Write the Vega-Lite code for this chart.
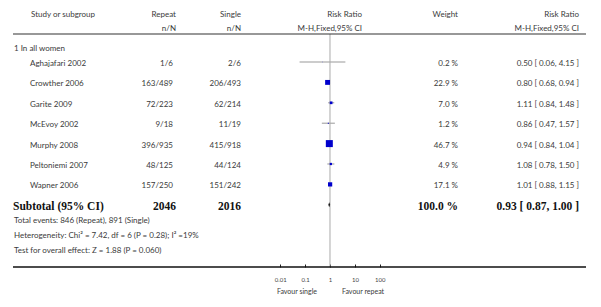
{
  "$schema": "https://vega.github.io/schema/vega-lite/v6.json",
  "padding": {"left": 12, "top": 0, "right": 0, "bottom": 0},
  "spacing": 0,
  "bounds": "flush",
  "config": {
    "view": {"stroke": null},
    "text": {"font": "Lato", "fontSize": 8, "color": "#3a3a3a", "dy": 2}
  },
  "datasets": {
    "studies": [
      {"study": "Aghajafari 2002", "repeat": "1/6", "single": "2/6", "weight": 0.2, "wtxt": "0.2 %", "rr": 0.50, "lo": 0.06, "hi": 4.15, "rrtxt": "0.50 [ 0.06, 4.15 ]", "row": 1},
      {"study": "Crowther 2006", "repeat": "163/489", "single": "206/493", "weight": 22.9, "wtxt": "22.9 %", "rr": 0.80, "lo": 0.68, "hi": 0.94, "rrtxt": "0.80 [ 0.68, 0.94 ]", "row": 2},
      {"study": "Garite 2009", "repeat": "72/223", "single": "62/214", "weight": 7.0, "wtxt": "7.0 %", "rr": 1.11, "lo": 0.84, "hi": 1.48, "rrtxt": "1.11 [ 0.84, 1.48 ]", "row": 3},
      {"study": "McEvoy 2002", "repeat": "9/18", "single": "11/19", "weight": 1.2, "wtxt": "1.2 %", "rr": 0.86, "lo": 0.47, "hi": 1.57, "rrtxt": "0.86 [ 0.47, 1.57 ]", "row": 4},
      {"study": "Murphy 2008", "repeat": "396/935", "single": "415/918", "weight": 46.7, "wtxt": "46.7 %", "rr": 0.94, "lo": 0.84, "hi": 1.04, "rrtxt": "0.94 [ 0.84, 1.04 ]", "row": 5},
      {"study": "Peltoniemi 2007", "repeat": "48/125", "single": "44/124", "weight": 4.9, "wtxt": "4.9 %", "rr": 1.08, "lo": 0.78, "hi": 1.50, "rrtxt": "1.08 [ 0.78, 1.50 ]", "row": 6},
      {"study": "Wapner 2006", "repeat": "157/250", "single": "151/242", "weight": 17.1, "wtxt": "17.1 %", "rr": 1.01, "lo": 0.88, "hi": 1.15, "rrtxt": "1.01 [ 0.88, 1.15 ]", "row": 7}
    ],
    "total": [
      {"label": "Subtotal (95% CI)", "repeat": "2046", "single": "2016", "wtxt": "100.0 %", "rr": 0.93, "lo": 0.87, "hi": 1.00, "rrtxt": "0.93 [ 0.87, 1.00 ]", "row": 8}
    ],
    "notes": [
      {"text": "1 In all women", "row": 0.25},
      {"text": "Total events: 846 (Repeat), 891 (Single)", "row": 8.7},
      {"text": "Heterogeneity: Chi² = 7.42, df = 6 (P = 0.28); I² =19%", "row": 9.45},
      {"text": "Test for overall effect: Z = 1.88 (P = 0.060)", "row": 10.15}
    ],
    "headers": [
      {"col": "study", "text": "Study or subgroup", "row": -1.4},
      {"col": "repeat", "text": "Repeat", "row": -1.4},
      {"col": "repeat", "text": "n/N", "row": -0.74},
      {"col": "single", "text": "Single", "row": -1.4},
      {"col": "single", "text": "n/N", "row": -0.74},
      {"col": "forest", "text": "Risk Ratio", "row": -1.4},
      {"col": "forest", "text": "M-H,Fixed,95% CI", "row": -0.74},
      {"col": "weight", "text": "Weight", "row": -1.4},
      {"col": "rr", "text": "Risk Ratio", "row": -1.4},
      {"col": "rr", "text": "M-H,Fixed,95% CI", "row": -0.74}
    ],
    "favour": [
      {"text": "Favour single", "side": "left", "row": 12.2},
      {"text": "Favour repeat", "side": "right", "row": 12.2}
    ],
    "frame": [
      {"line": "frame"}
    ]
  },
  "hconcat": [
    {
      "width": 123, "height": 267,
      "layer": [
        {"data": {"name": "studies"}, "mark": {"type": "text", "align": "left", "dx": 17},
         "encoding": {"x": {"datum": 0, "type": "quantitative", "scale": {"domain": [0, 1], "nice": false, "zero": false}, "axis": null},
                      "y": {"field": "row", "type": "quantitative", "scale": {"domain": [-2.04, 11.05], "reverse": true, "nice": false, "zero": false}, "axis": null},
                      "text": {"field": "study"}}},
        {"data": {"name": "total"}, "mark": {"type": "text", "align": "left", "font": "Liberation Serif", "fontWeight": "bold", "fontSize": 11.5, "color": "#111"},
         "encoding": {"x": {"datum": 0, "type": "quantitative"}, "y": {"field": "row", "type": "quantitative"}, "text": {"field": "label"}}},
        {"data": {"name": "notes"}, "mark": {"type": "text", "align": "left", "dx": 1},
         "encoding": {"x": {"datum": 0, "type": "quantitative"}, "y": {"field": "row", "type": "quantitative"}, "text": {"field": "text"}}},
        {"data": {"name": "headers"}, "transform": [{"filter": "datum.col === 'study'"}], "mark": {"type": "text", "align": "left", "dx": 18},
         "encoding": {"x": {"datum": 0, "type": "quantitative"}, "y": {"field": "row", "type": "quantitative"}, "text": {"field": "text"}}},
        {"data": {"name": "frame"}, "mark": {"type": "rule", "color": "#333", "strokeWidth": 1.2}, "encoding": {"y": {"datum": -0.373, "type": "quantitative"}}},
        {"data": {"name": "frame"}, "mark": {"type": "rule", "color": "#111", "strokeWidth": 1.5}, "encoding": {"y": {"datum": 11.05, "type": "quantitative"}}}
      ]
    },
    {
      "width": 40, "height": 267,
      "layer": [
        {"data": {"name": "studies"}, "mark": {"type": "text", "align": "right", "dx": -3},
         "encoding": {"x": {"datum": 1, "type": "quantitative", "scale": {"domain": [0, 1], "nice": false, "zero": false}, "axis": null},
                      "y": {"field": "row", "type": "quantitative", "scale": {"domain": [-2.04, 11.05], "reverse": true, "nice": false, "zero": false}, "axis": null},
                      "text": {"field": "repeat"}}},
        {"data": {"name": "total"}, "mark": {"type": "text", "align": "right", "font": "Liberation Serif", "fontWeight": "bold", "fontSize": 11.5, "color": "#111"},
         "encoding": {"x": {"datum": 1, "type": "quantitative"}, "y": {"field": "row", "type": "quantitative"}, "text": {"field": "repeat"}}},
        {"data": {"name": "headers"}, "transform": [{"filter": "datum.col === 'repeat'"}], "mark": {"type": "text", "align": "right"},
         "encoding": {"x": {"datum": 1, "type": "quantitative"}, "y": {"field": "row", "type": "quantitative"}, "text": {"field": "text"}}},
        {"data": {"name": "frame"}, "mark": {"type": "rule", "color": "#333", "strokeWidth": 1.2}, "encoding": {"y": {"datum": -0.373, "type": "quantitative"}}},
        {"data": {"name": "frame"}, "mark": {"type": "rule", "color": "#111", "strokeWidth": 1.5}, "encoding": {"y": {"datum": 11.05, "type": "quantitative"}}}
      ]
    },
    {
      "width": 65, "height": 267,
      "layer": [
        {"data": {"name": "studies"}, "mark": {"type": "text", "align": "right"},
         "encoding": {"x": {"datum": 1, "type": "quantitative", "scale": {"domain": [0, 1], "nice": false, "zero": false}, "axis": null},
                      "y": {"field": "row", "type": "quantitative", "scale": {"domain": [-2.04, 11.05], "reverse": true, "nice": false, "zero": false}, "axis": null},
                      "text": {"field": "single"}}},
        {"data": {"name": "total"}, "mark": {"type": "text", "align": "right", "font": "Liberation Serif", "fontWeight": "bold", "fontSize": 11.5, "color": "#111"},
         "encoding": {"x": {"datum": 1, "type": "quantitative"}, "y": {"field": "row", "type": "quantitative"}, "text": {"field": "single"}}},
        {"data": {"name": "headers"}, "transform": [{"filter": "datum.col === 'single'"}], "mark": {"type": "text", "align": "right"},
         "encoding": {"x": {"datum": 1, "type": "quantitative"}, "y": {"field": "row", "type": "quantitative"}, "text": {"field": "text"}}},
        {"data": {"name": "frame"}, "mark": {"type": "rule", "color": "#333", "strokeWidth": 1.2}, "encoding": {"y": {"datum": -0.373, "type": "quantitative"}}},
        {"data": {"name": "frame"}, "mark": {"type": "rule", "color": "#111", "strokeWidth": 1.5}, "encoding": {"y": {"datum": 11.05, "type": "quantitative"}}}
      ]
    },
    {
      "width": 160, "height": 267,
      "layer": [
        {"data": {"name": "studies"}, "mark": {"type": "rule", "color": "#999", "strokeWidth": 1},
         "encoding": {
           "x": {"field": "lo", "type": "quantitative", "scale": {"type": "log", "domain": [0.0002667, 710], "nice": false},
                 "axis": {"values": [0.01, 0.1, 1, 10, 100], "format": "~g", "title": null, "domain": false, "grid": false, "tickSize": -3, "tickColor": "#222", "tickWidth": 1, "labelPadding": 12, "labelFont": "Lato", "labelFontSize": 6, "labelColor": "#444"}},
           "x2": {"field": "hi"},
           "y": {"field": "row", "type": "quantitative", "scale": {"domain": [-2.04, 11.05], "reverse": true, "nice": false, "zero": false}, "axis": null}
         }},
        {"data": {"name": "frame"}, "mark": {"type": "rule", "color": "#aaa", "strokeWidth": 1},
         "encoding": {"x": {"datum": 1, "type": "quantitative"}, "y": {"datum": -0.373, "type": "quantitative"}, "y2": {"datum": 11.05}}},
        {"data": {"name": "studies"}, "mark": {"type": "point", "shape": "square", "filled": true, "color": "#0000cc", "opacity": 1},
         "encoding": {"x": {"field": "rr", "type": "quantitative"}, "y": {"field": "row", "type": "quantitative"},
                      "size": {"field": "weight", "type": "quantitative", "scale": {"type": "linear", "domain": [0, 46.7], "range": [0, 49]}, "legend": null}}},
        {"data": {"name": "total"}, "mark": {"type": "point", "shape": "M0,-1L0.35,0L0,1L-0.35,0Z", "filled": true, "color": "#111", "size": 25, "opacity": 1},
         "encoding": {"x": {"field": "rr", "type": "quantitative"}, "y": {"field": "row", "type": "quantitative"}}},
        {"data": {"name": "headers"}, "transform": [{"filter": "datum.col === 'forest'"}], "mark": {"type": "text", "align": "right"},
         "encoding": {"x": {"datum": 19.3, "type": "quantitative"}, "y": {"field": "row", "type": "quantitative"}, "text": {"field": "text"}}},
        {"data": {"name": "favour"}, "transform": [{"filter": "datum.side === 'left'"}], "mark": {"type": "text", "align": "right", "dx": -13, "fontSize": 7},
         "encoding": {"x": {"datum": 1, "type": "quantitative"}, "y": {"field": "row", "type": "quantitative"}, "text": {"field": "text"}}},
        {"data": {"name": "favour"}, "transform": [{"filter": "datum.side === 'right'"}], "mark": {"type": "text", "align": "left", "dx": 12, "fontSize": 7},
         "encoding": {"x": {"datum": 1, "type": "quantitative"}, "y": {"field": "row", "type": "quantitative"}, "text": {"field": "text"}}},
        {"data": {"name": "frame"}, "mark": {"type": "rule", "color": "#333", "strokeWidth": 1.2}, "encoding": {"y": {"datum": -0.373, "type": "quantitative"}}},
        {"data": {"name": "frame"}, "mark": {"type": "rule", "color": "#111", "strokeWidth": 1.5}, "encoding": {"y": {"datum": 11.05, "type": "quantitative"}}}
      ]
    },
    {
      "width": 57, "height": 267,
      "layer": [
        {"data": {"name": "studies"}, "mark": {"type": "text", "align": "right"},
         "encoding": {"x": {"datum": 1, "type": "quantitative", "scale": {"domain": [0, 1], "nice": false, "zero": false}, "axis": null},
                      "y": {"field": "row", "type": "quantitative", "scale": {"domain": [-2.04, 11.05], "reverse": true, "nice": false, "zero": false}, "axis": null},
                      "text": {"field": "wtxt"}}},
        {"data": {"name": "total"}, "mark": {"type": "text", "align": "right", "font": "Liberation Serif", "fontWeight": "bold", "fontSize": 11.5, "color": "#111"},
         "encoding": {"x": {"datum": 1, "type": "quantitative"}, "y": {"field": "row", "type": "quantitative"}, "text": {"field": "wtxt"}}},
        {"data": {"name": "headers"}, "transform": [{"filter": "datum.col === 'weight'"}], "mark": {"type": "text", "align": "right"},
         "encoding": {"x": {"datum": 1, "type": "quantitative"}, "y": {"field": "row", "type": "quantitative"}, "text": {"field": "text"}}},
        {"data": {"name": "frame"}, "mark": {"type": "rule", "color": "#333", "strokeWidth": 1.2}, "encoding": {"y": {"datum": -0.373, "type": "quantitative"}}},
        {"data": {"name": "frame"}, "mark": {"type": "rule", "color": "#111", "strokeWidth": 1.5}, "encoding": {"y": {"datum": 11.05, "type": "quantitative"}}}
      ]
    },
    {
      "width": 128, "height": 267,
      "layer": [
        {"data": {"name": "studies"}, "mark": {"type": "text", "align": "right", "dx": -7},
         "encoding": {"x": {"datum": 1, "type": "quantitative", "scale": {"domain": [0, 1], "nice": false, "zero": false}, "axis": null},
                      "y": {"field": "row", "type": "quantitative", "scale": {"domain": [-2.04, 11.05], "reverse": true, "nice": false, "zero": false}, "axis": null},
                      "text": {"field": "rrtxt"}}},
        {"data": {"name": "total"}, "mark": {"type": "text", "align": "right", "dx": -7, "font": "Liberation Serif", "fontWeight": "bold", "fontSize": 11.5, "color": "#111"},
         "encoding": {"x": {"datum": 1, "type": "quantitative"}, "y": {"field": "row", "type": "quantitative"}, "text": {"field": "rrtxt"}}},
        {"data": {"name": "headers"}, "transform": [{"filter": "datum.col === 'rr'"}], "mark": {"type": "text", "align": "right", "dx": -7},
         "encoding": {"x": {"datum": 1, "type": "quantitative"}, "y": {"field": "row", "type": "quantitative"}, "text": {"field": "text"}}},
        {"data": {"name": "frame"}, "mark": {"type": "rule", "color": "#333", "strokeWidth": 1.2}, "encoding": {"y": {"datum": -0.373, "type": "quantitative"}}},
        {"data": {"name": "frame"}, "mark": {"type": "rule", "color": "#111", "strokeWidth": 1.5}, "encoding": {"y": {"datum": 11.05, "type": "quantitative"}}}
      ]
    }
  ]
}
